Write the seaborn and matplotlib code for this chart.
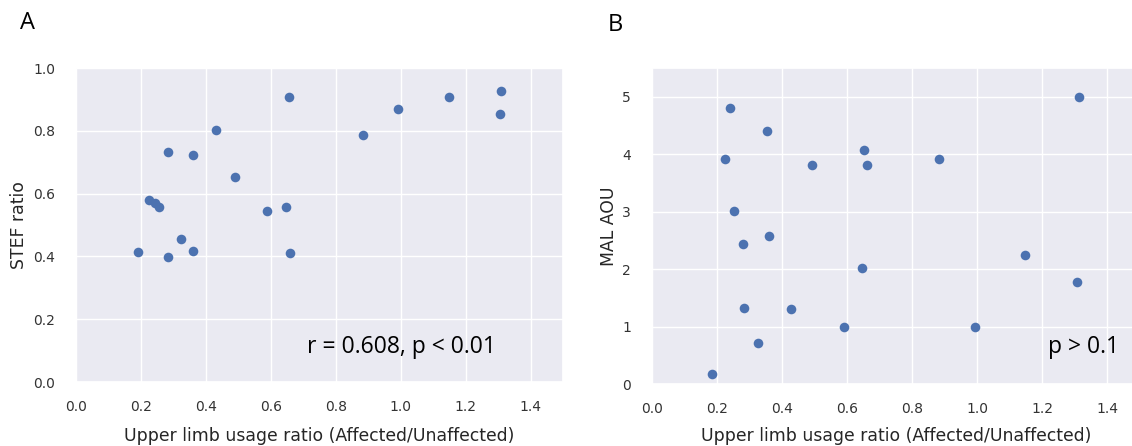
import matplotlib
matplotlib.use("Agg")
import matplotlib.pyplot as plt
import seaborn as sns
import pandas as pd

# Panel A data: usage ratio vs STEF ratio
usage_a = [0.190, 0.224, 0.243, 0.257, 0.283, 0.283, 0.324, 0.360, 0.360, 0.430,
           0.490, 0.588, 0.646, 0.655, 0.660, 0.883, 0.992, 1.148, 1.305, 1.309]
stef = [0.413, 0.579, 0.570, 0.556, 0.732, 0.399, 0.454, 0.723, 0.417, 0.801,
        0.653, 0.543, 0.556, 0.907, 0.412, 0.787, 0.871, 0.907, 0.852, 0.926]

# Panel B data: usage ratio vs MAL AOU
usage_b = [0.185, 0.240, 0.225, 0.252, 0.280, 0.284, 0.325, 0.355, 0.361, 0.428,
           0.491, 0.590, 0.647, 0.652, 0.660, 0.882, 0.993, 1.145, 1.307, 1.312]
mal_aou = [0.18, 4.80, 3.91, 3.01, 2.44, 1.33, 0.71, 4.40, 2.57, 1.31,
           3.81, 1.00, 2.02, 4.07, 3.81, 3.91, 1.00, 2.24, 1.78, 5.00]

x_ticks = [0.0, 0.2, 0.4, 0.6, 0.8, 1.0, 1.2, 1.4]
xlabel = "Upper limb usage ratio (Affected/Unaffected)"

sns.set_theme(style="darkgrid")
plt.rcParams["font.family"] = ["DejaVu Sans"]

W, H = 1132, 446
fig = plt.figure(figsize=(W / 100, H / 100), dpi=100)
# axes placed from pixel extents measured on the reference
axA = fig.add_axes([76 / W, 1 - 382 / H, 487 / W, 314 / H])
axB = fig.add_axes([652 / W, 1 - 384 / H, 488 / W, 316 / H])

dfa = pd.DataFrame({"x": usage_a, "y": stef})
dfb = pd.DataFrame({"x": usage_b, "y": mal_aou})
blue = "#4C72B0"

sns.scatterplot(data=dfa, x="x", y="y", ax=axA, s=48, color=blue, linewidth=0)
sns.scatterplot(data=dfb, x="x", y="y", ax=axB, s=48, color=blue, linewidth=0)

axA.set_xlim(0, 1.5)
axA.set_ylim(0, 1.0)
axA.set_xticks(x_ticks)
axA.set_yticks([0.0, 0.2, 0.4, 0.6, 0.8, 1.0])
axA.set_ylabel("STEF ratio", fontsize=12.4)
axA.set_xlabel(xlabel, fontsize=12.4, va="top")
axA.yaxis.set_label_coords(-0.099, 0.5)
axA.xaxis.set_label_coords(0.5, -0.143)

axB.set_xlim(0, 1.5)
axB.set_ylim(0, 5.5)
axB.set_xticks(x_ticks)
axB.set_yticks([0, 1, 2, 3, 4, 5])
axB.set_ylabel("MAL AOU", fontsize=12.4)
axB.set_xlabel(xlabel, fontsize=12.4, va="top")
axB.yaxis.set_label_coords(-0.070, 0.5)
axB.xaxis.set_label_coords(0.5, -0.136)

for ax in (axA, axB):
    ax.tick_params(axis="both", labelsize=10, colors="#333333")
    ax.tick_params(axis="x", pad=7)
    ax.tick_params(axis="y", pad=9)

axA.text(1.293, 0.11, "r = 0.608, p < 0.01", ha="right", va="center",
         fontsize=16.5, family=["Open Sans", "DejaVu Sans"], color="black")
axB.text(1.434, 0.64, "p > 0.1", ha="right", va="center",
         fontsize=16.5, family=["Open Sans", "DejaVu Sans"], color="black")

fig.text(27 / W, 1 - 23 / H, "A", ha="center", va="center", fontsize=17,
         family=["Open Sans", "DejaVu Sans"], color="black")
fig.text(615 / W, 1 - 25 / H, "B", ha="center", va="center", fontsize=17,
         family=["Open Sans", "DejaVu Sans"], color="black")

fig.savefig("out.png", dpi=100)
